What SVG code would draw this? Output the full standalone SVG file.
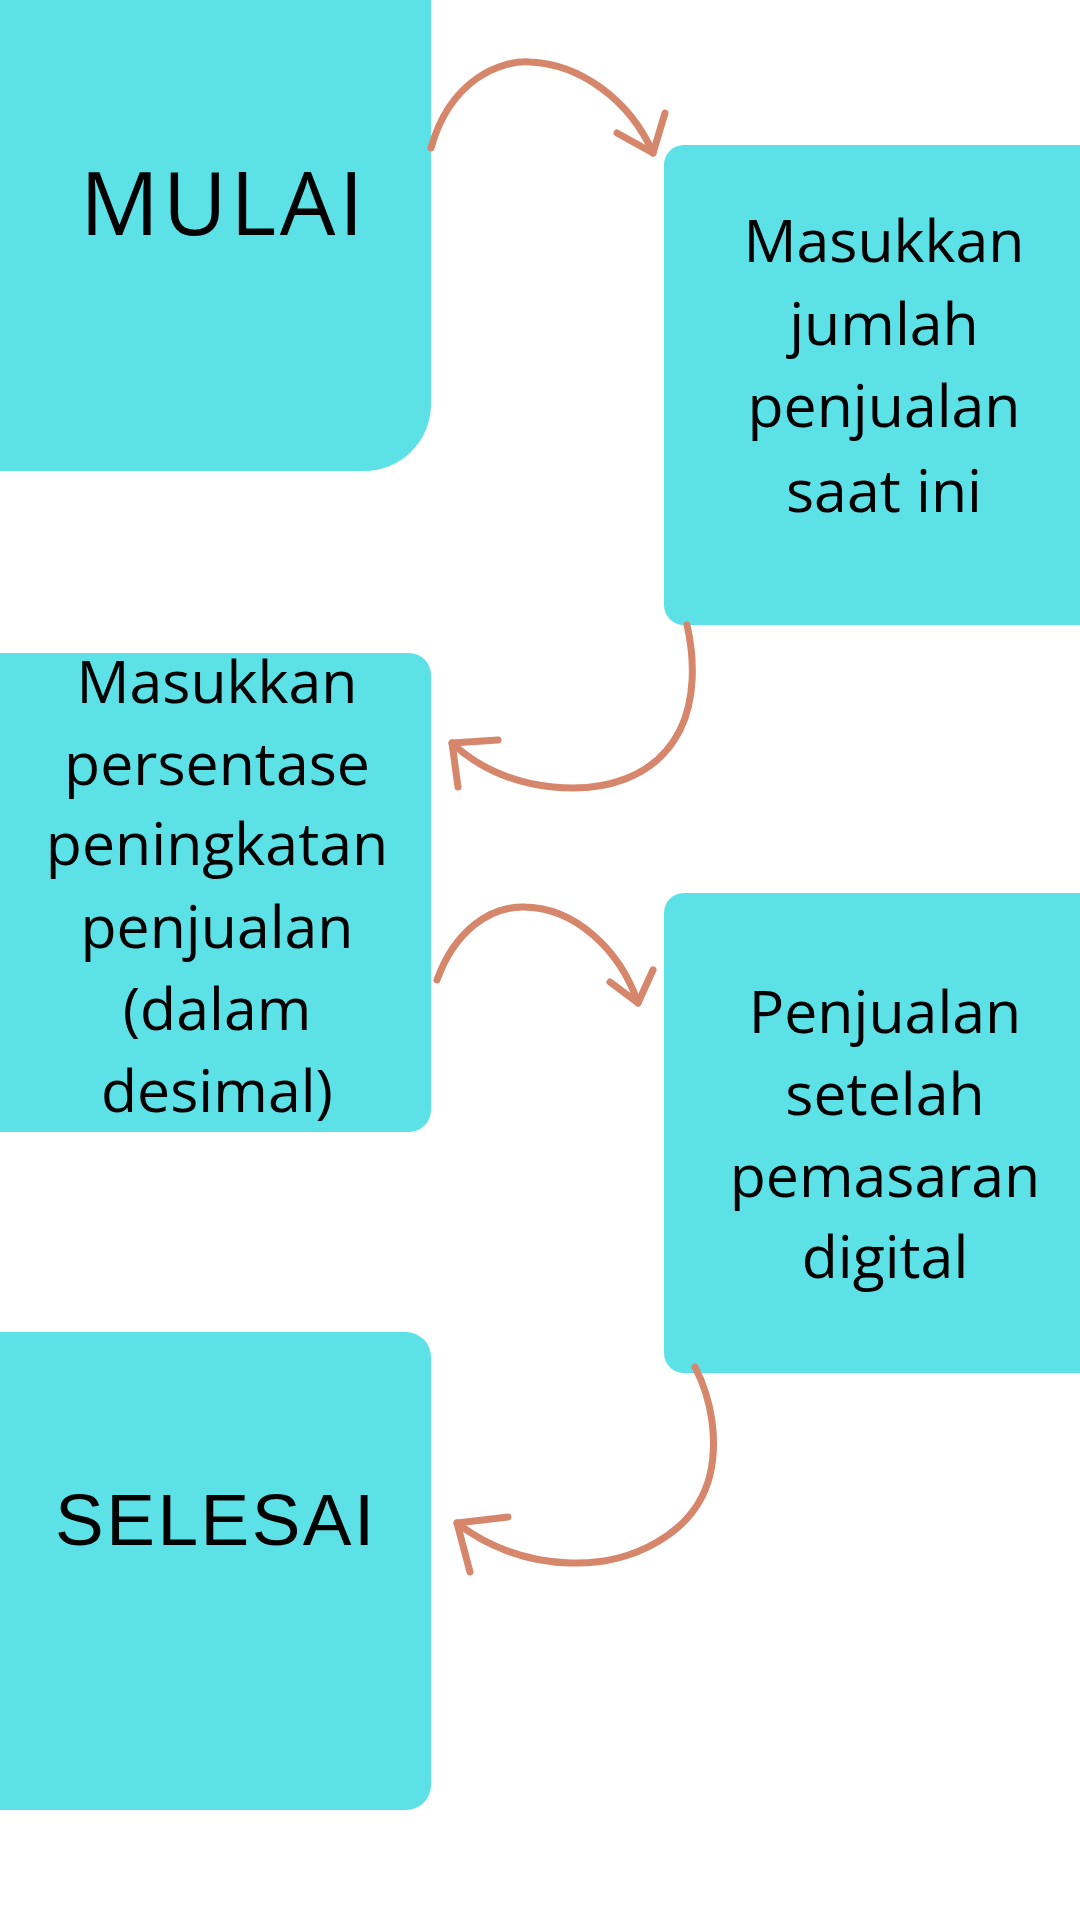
<svg xmlns="http://www.w3.org/2000/svg" width="1080" height="1920" viewBox="0 0 1080 1920">
<style>
.box{fill:#5ce1e6}
.t{font-family:"Open Sans","Noto Sans",sans-serif;font-size:59px;fill:#000;text-anchor:middle}
.big{font-family:"Liberation Sans","Arial",sans-serif;fill:#000}
.big2{font-family:"Open Sans","Noto Sans",sans-serif;fill:#000}
.arr{fill:none;stroke:#d6866b;stroke-width:7;stroke-linecap:round;stroke-linejoin:round}
</style>
<rect width="1080" height="1920" fill="#ffffff"/>
<g id="node-mulai">
<path class="box" d="M0,0 H431 V404 A67,67 0 0 1 364,471 H0 Z"/>
<text class="big2" x="80" y="235" font-size="88" letter-spacing="3.5">MULAI</text>
</g>
<g id="node-jumlah">
<path class="box" d="M684,145 H1080 V625 H684 A20,20 0 0 1 664,605 V165 A20,20 0 0 1 684,145 Z"/>
<text class="t" x="884" y="262">Masukkan</text>
<text class="t" x="884" y="345">jumlah</text>
<text class="t" x="884" y="427">penjualan</text>
<text class="t" x="884" y="512">saat ini</text>
</g>
<g id="node-persentase">
<path class="box" d="M0,653 H409 A22,22 0 0 1 431,675 V1110 A22,22 0 0 1 409,1132 H0 Z"/>
<text class="t" x="217" y="703">Masukkan</text>
<text class="t" x="217" y="785">persentase</text>
<text class="t" x="217" y="865">peningkatan</text>
<text class="t" x="217" y="948">penjualan</text>
<text class="t" x="217" y="1030">(dalam</text>
<text class="t" x="217" y="1112">desimal)</text>
</g>
<g id="node-hasil">
<path class="box" d="M684,893 H1080 V1373 H684 A20,20 0 0 1 664,1353 V913 A20,20 0 0 1 684,893 Z"/>
<text class="t" x="885" y="1033">Penjualan</text>
<text class="t" x="885" y="1115">setelah</text>
<text class="t" x="885" y="1197">pemasaran</text>
<text class="t" x="885" y="1278">digital</text>
</g>
<g id="node-selesai">
<path class="box" d="M0,1332 H406 A25,25 0 0 1 431,1357 V1785 A25,25 0 0 1 406,1810 H0 Z"/>
<text class="big" x="55" y="1545" font-size="73" letter-spacing="2.5">SELESAI</text>
</g>
<g id="connectors">
<path class="arr" d="M431,148 C450,80 500,60 530,62 C580,64 630,100 653,153"/>
<path class="arr" d="M665,113 L653,153 L617,133"/>
<path class="arr" d="M687,625 C695,660 695,700 680,730 C655,780 600,792 553,787 C510,783 475,765 452,743"/>
<path class="arr" d="M498,740 L452,743 L458,787"/>
<path class="arr" d="M437,980 C455,930 490,907 523,907 C575,907 620,950 638,1003"/>
<path class="arr" d="M653,970 L638,1003 L610,982"/>
<path class="arr" d="M695,1367 C712,1400 718,1440 710,1475 C695,1535 630,1565 570,1563 C525,1562 485,1545 457,1523"/>
<path class="arr" d="M508,1517 L457,1523 L470,1572"/>
</g>
</svg>
